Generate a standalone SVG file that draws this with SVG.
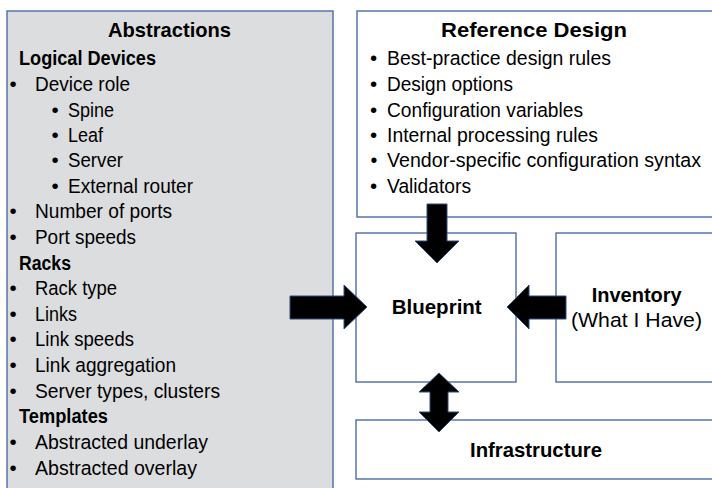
<svg xmlns="http://www.w3.org/2000/svg" width="712" height="488" viewBox="0 0 712 488">
<style>
.box{stroke:#4A6DA7;stroke-width:1.4}
.t{font-family:"Liberation Sans",Arial,sans-serif;font-size:20.5px;fill:#000}
.h{font-family:"Liberation Sans",Arial,sans-serif;font-size:21px;font-weight:bold;fill:#000}
.s{font-family:"Liberation Sans",Arial,sans-serif;font-size:20px;font-weight:bold;fill:#000}
.c{text-anchor:middle}
.arr{fill:#000;stroke:#2F4B7C;stroke-width:1}
</style>
<rect width="712" height="488" fill="#fff"/>
<g id="abstractions">
<rect class="box" x="7" y="11" width="326" height="490" fill="#DCDDDF"/>
<text class="h c" x="169.5" y="37" textLength="123" lengthAdjust="spacingAndGlyphs">Abstractions</text>
<text class="s" x="19" y="65" textLength="137" lengthAdjust="spacingAndGlyphs">Logical Devices</text>
<text class="t" y="91"><tspan x="9.5">•</tspan><tspan x="35" textLength="95" lengthAdjust="spacingAndGlyphs">Device role</tspan></text>
<text class="t" y="117"><tspan x="51.5">•</tspan><tspan x="68" textLength="46" lengthAdjust="spacingAndGlyphs">Spine</tspan></text>
<text class="t" y="142"><tspan x="51.5">•</tspan><tspan x="68" textLength="35" lengthAdjust="spacingAndGlyphs">Leaf</tspan></text>
<text class="t" y="167"><tspan x="51.5">•</tspan><tspan x="68" textLength="55" lengthAdjust="spacingAndGlyphs">Server</tspan></text>
<text class="t" y="193"><tspan x="51.5">•</tspan><tspan x="68" textLength="125" lengthAdjust="spacingAndGlyphs">External router</tspan></text>
<text class="t" y="218"><tspan x="9.5">•</tspan><tspan x="35" textLength="137" lengthAdjust="spacingAndGlyphs">Number of ports</tspan></text>
<text class="t" y="244"><tspan x="9.5">•</tspan><tspan x="35" textLength="101" lengthAdjust="spacingAndGlyphs">Port speeds</tspan></text>
<text class="s" x="19" y="270" textLength="52" lengthAdjust="spacingAndGlyphs">Racks</text>
<text class="t" y="295"><tspan x="9.5">•</tspan><tspan x="35" textLength="82" lengthAdjust="spacingAndGlyphs">Rack type</tspan></text>
<text class="t" y="321"><tspan x="9.5">•</tspan><tspan x="35" textLength="42" lengthAdjust="spacingAndGlyphs">Links</tspan></text>
<text class="t" y="346"><tspan x="9.5">•</tspan><tspan x="35" textLength="99" lengthAdjust="spacingAndGlyphs">Link speeds</tspan></text>
<text class="t" y="372"><tspan x="9.5">•</tspan><tspan x="35" textLength="141" lengthAdjust="spacingAndGlyphs">Link aggregation</tspan></text>
<text class="t" y="398"><tspan x="9.5">•</tspan><tspan x="35" textLength="185" lengthAdjust="spacingAndGlyphs">Server types, clusters</tspan></text>
<text class="s" x="19" y="423" textLength="89" lengthAdjust="spacingAndGlyphs">Templates</text>
<text class="t" y="449"><tspan x="9.5">•</tspan><tspan x="35" textLength="173" lengthAdjust="spacingAndGlyphs">Abstracted underlay</tspan></text>
<text class="t" y="475"><tspan x="9.5">•</tspan><tspan x="35" textLength="162" lengthAdjust="spacingAndGlyphs">Abstracted overlay</tspan></text>
</g>
<g id="reference-design">
<rect class="box" x="357" y="11" width="370" height="206" fill="#fff"/>
<text class="h c" x="534" y="37" textLength="186" lengthAdjust="spacingAndGlyphs">Reference Design</text>
<text class="t" y="65"><tspan x="370">•</tspan><tspan x="387" textLength="224" lengthAdjust="spacingAndGlyphs">Best-practice design rules</tspan></text>
<text class="t" y="91"><tspan x="370">•</tspan><tspan x="387" textLength="126" lengthAdjust="spacingAndGlyphs">Design options</tspan></text>
<text class="t" y="117"><tspan x="370">•</tspan><tspan x="387" textLength="196" lengthAdjust="spacingAndGlyphs">Configuration variables</tspan></text>
<text class="t" y="142"><tspan x="370">•</tspan><tspan x="387" textLength="211" lengthAdjust="spacingAndGlyphs">Internal processing rules</tspan></text>
<text class="t" y="167" style="font-size:19.5px"><tspan x="370.5">•</tspan><tspan x="387" textLength="314" lengthAdjust="spacingAndGlyphs">Vendor-specific configuration syntax</tspan></text>
<text class="t" y="193"><tspan x="370">•</tspan><tspan x="387" textLength="84" lengthAdjust="spacingAndGlyphs">Validators</tspan></text>
</g>
<g id="blueprint">
<rect class="box" x="356" y="233" width="160" height="149" fill="#fff"/>
<text class="h c" x="436.7" y="314" textLength="90" lengthAdjust="spacingAndGlyphs">Blueprint</text>
</g>
<g id="inventory">
<rect class="box" x="556" y="233" width="170" height="149" fill="#fff"/>
<text class="h c" x="636.7" y="302" textLength="90" lengthAdjust="spacingAndGlyphs">Inventory</text>
<text class="t c" x="636.5" y="327" textLength="131" lengthAdjust="spacingAndGlyphs">(What I Have)</text>
</g>
<g id="infrastructure">
<rect class="box" x="356" y="420" width="370" height="59" fill="#fff"/>
<text class="h c" x="536" y="457" textLength="132" lengthAdjust="spacingAndGlyphs">Infrastructure</text>
</g>
<g id="connectors">
<polygon class="arr" points="427,204 447,204 447,241 459,241 437,263 415,241 427,241"/>
<polygon class="arr" points="290,296 344,296 344,285 367,307 344,329 344,319 290,319"/>
<polygon class="arr" points="566,296 529,296 529,285 507,307 529,329 529,319 566,319"/>
<polygon class="arr" points="439,373 459,392 448,392 448,412 459,412 439,432 419,412 430,412 430,392 419,392"/>
</g>
</svg>
